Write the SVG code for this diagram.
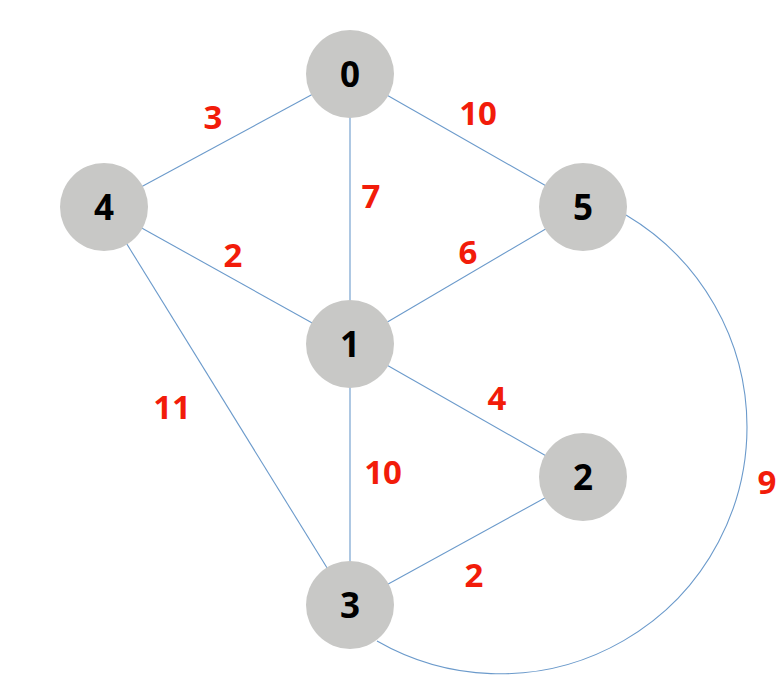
<svg xmlns="http://www.w3.org/2000/svg" width="781" height="682" viewBox="0 0 781 682">
<style>
.edge{stroke:#6b9acb;stroke-width:1.1;fill:none}
.node circle{fill:#c8c8c6}
.node text{font-family:"Open Sans","Noto Sans","Liberation Sans",sans-serif;font-weight:700;font-size:35px;fill:#000;text-anchor:middle}
.w{font-family:"Open Sans","Noto Sans","Liberation Sans",sans-serif;font-weight:700;font-size:33px;fill:#f21c0a;text-anchor:middle}
</style>
<rect width="781" height="682" fill="#fff"/>
<g id="connectors">
<line class="edge" x1="350" y1="74" x2="104" y2="207"/>
<line class="edge" x1="350" y1="74" x2="350" y2="344"/>
<line class="edge" x1="350" y1="74" x2="583" y2="207"/>
<line class="edge" x1="104" y1="207" x2="350" y2="344"/>
<line class="edge" x1="104" y1="207" x2="350" y2="605"/>
<line class="edge" x1="583" y1="207" x2="350" y2="344"/>
<line class="edge" x1="350" y1="344" x2="583" y2="477"/>
<line class="edge" x1="350" y1="344" x2="350" y2="605"/>
<line class="edge" x1="583" y1="477" x2="350" y2="605"/>
<path class="edge" d="M626,215 A247,247 0 0 1 747,427 A247,247 0 0 1 377,641"/>
</g>
<g id="weights">
<text class="w" x="213" y="129">3</text>
<text class="w" x="478" y="125">10</text>
<text class="w" x="371" y="208">7</text>
<text class="w" x="233" y="267">2</text>
<text class="w" x="468" y="264">6</text>
<text class="w" x="497" y="410">4</text>
<text class="w" x="172" y="419">11</text>
<text class="w" x="383" y="484">10</text>
<text class="w" x="474" y="587">2</text>
<text class="w" x="767" y="494">9</text>
</g>
<g id="node0" class="node"><circle cx="350" cy="74" r="44"/><text x="350" y="87">0</text></g>
<g id="node4" class="node"><circle cx="104" cy="207" r="44"/><text x="104" y="220">4</text></g>
<g id="node5" class="node"><circle cx="583" cy="207" r="44"/><text x="583" y="220">5</text></g>
<g id="node1" class="node"><circle cx="350" cy="344" r="44"/><text x="350" y="357">1</text></g>
<g id="node2" class="node"><circle cx="583" cy="477" r="44"/><text x="583" y="490">2</text></g>
<g id="node3" class="node"><circle cx="350" cy="605" r="44"/><text x="350" y="618">3</text></g>
</svg>
